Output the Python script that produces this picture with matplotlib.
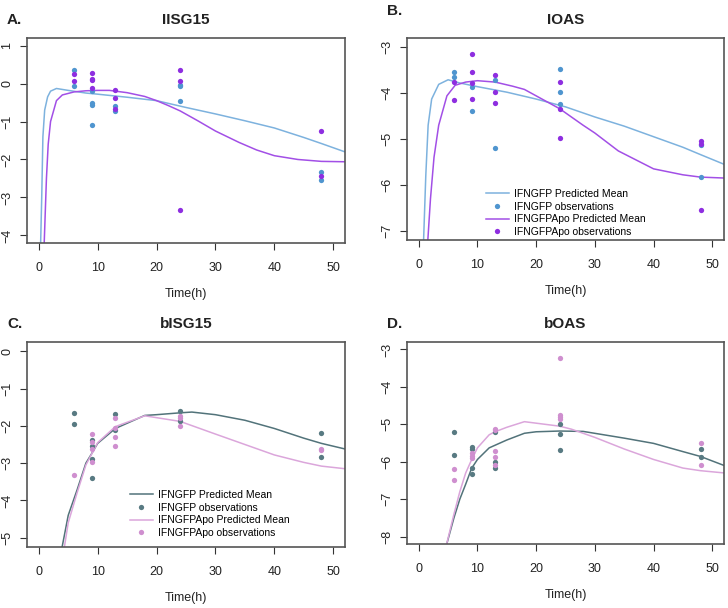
import matplotlib
matplotlib.use('Agg')
import matplotlib.pyplot as plt
from matplotlib.lines import Line2D

plt.rcParams['font.family'] = ['Liberation Sans', 'DejaVu Sans']

# observations (time, log value)
A_gfp_t = [6, 6, 9, 9, 9, 9, 13, 13, 24, 24, 24, 48, 48]
A_gfp_y = [0.37, -0.06, -0.2, -0.51, -0.56, -1.08, -0.59, -0.73, -0.03, -0.07, -0.46, -2.32, -2.53]
A_apo_t = [6, 6, 9, 9, 9, 9, 13, 13, 13, 24, 24, 24, 48, 48]
A_apo_y = [0.25, 0.07, 0.28, 0.13, 0.09, -0.11, -0.16, -0.37, -0.66, 0.37, 0.07, -3.32, -1.26, -2.44]

B_gfp_t = [6, 6, 9, 9, 13, 13, 24, 24, 24, 48, 48]
B_gfp_y = [-3.54, -3.66, -3.87, -4.40, -3.72, -5.19, -3.47, -3.98, -4.24, -5.13, -5.82]
B_apo_t = [6, 6, 9, 9, 9, 9, 13, 13, 13, 24, 24, 24, 48, 48, 48]
B_apo_y = [-3.75, -4.14, -3.15, -3.53, -3.79, -4.12, -3.60, -3.97, -4.22, -3.76, -4.35, -4.97, -5.05, -5.10, -6.54]

C_gfp_t = [6, 6, 9, 9, 9, 9, 13, 13, 24, 24, 48, 48]
C_gfp_y = [-1.65, -1.96, -2.37, -2.55, -2.88, -3.39, -1.69, -2.10, -1.61, -1.88, -2.18, -2.83]
C_apo_t = [6, 9, 9, 9, 9, 13, 13, 13, 13, 24, 24, 24, 48, 48]
C_apo_y = [-3.33, -2.21, -2.43, -2.63, -2.98, -1.78, -2.05, -2.29, -2.54, -1.74, -1.80, -2.01, -2.61, -2.65]

D_gfp_t = [6, 6, 9, 9, 9, 9, 13, 13, 13, 24, 24, 24, 48, 48]
D_gfp_y = [-5.21, -5.82, -5.60, -5.65, -6.16, -6.33, -5.21, -6.02, -6.18, -4.99, -5.26, -5.70, -5.66, -5.87]
D_apo_t = [6, 6, 9, 9, 9, 13, 13, 13, 13, 13, 24, 24, 24, 24, 48, 48]
D_apo_y = [-6.20, -6.50, -5.76, -5.85, -5.90, -5.13, -5.16, -5.71, -5.88, -6.09, -3.22, -4.75, -4.81, -4.85, -5.49, -6.08]

# predicted mean curves
A_gfp_ct = [0.3, 0.5, 0.7, 1, 1.5, 2, 3, 5, 8, 10, 15, 20, 25, 30, 35, 40, 45, 48, 52]
A_gfp_cy = [-4.3, -3.0, -1.4, -0.7, -0.35, -0.2, -0.13, -0.18, -0.25, -0.28, -0.36, -0.45, -0.63, -0.8, -0.98, -1.17, -1.42, -1.58, -1.8]
A_apo_ct = [0.9, 1.3, 1.6, 2, 3, 4, 6, 8, 10, 12, 15, 18, 20, 22, 24, 27, 30, 34, 37, 40, 44, 48, 52]
A_apo_cy = [-4.3, -2.5, -1.6, -1.0, -0.45, -0.3, -0.22, -0.19, -0.18, -0.18, -0.24, -0.34, -0.45, -0.58, -0.72, -0.98, -1.25, -1.55, -1.75, -1.9, -2.0, -2.05, -2.06]

B_gfp_ct = [0.8, 1.2, 1.6, 2.2, 3.4, 5, 7, 10, 15, 20, 25, 30, 35, 40, 45, 48, 52]
B_gfp_cy = [-7.3, -5.8, -4.7, -4.13, -3.81, -3.71, -3.78, -3.86, -3.98, -4.13, -4.3, -4.52, -4.72, -4.95, -5.18, -5.34, -5.55]
B_apo_ct = [1.5, 2.0, 2.6, 3.4, 4.8, 6.2, 8, 10, 13, 16, 18, 20, 24, 28, 30, 34, 40, 45, 48, 52]
B_apo_cy = [-7.3, -6.3, -5.4, -4.7, -4.06, -3.83, -3.76, -3.73, -3.76, -3.85, -3.92, -4.06, -4.34, -4.70, -4.87, -5.26, -5.65, -5.78, -5.83, -5.85]

C_gfp_ct = [3.9, 5, 6.5, 8, 9, 10, 13, 18, 20, 24, 26, 30, 35, 40, 45, 48, 52]
C_gfp_cy = [-5.3, -4.4, -3.72, -3.0, -2.74, -2.47, -2.07, -1.72, -1.70, -1.65, -1.63, -1.70, -1.85, -2.07, -2.33, -2.47, -2.62]
C_apo_ct = [4.3, 5, 6.5, 8, 9, 10, 13, 18, 20, 24, 30, 35, 40, 45, 48, 52]
C_apo_cy = [-5.3, -4.6, -3.8, -3.05, -2.75, -2.45, -2.02, -1.73, -1.78, -1.88, -2.22, -2.5, -2.78, -2.98, -3.08, -3.15]

D_gfp_ct = [4.6, 6, 7, 8, 9, 10, 12, 15, 18, 20, 24, 28, 35, 40, 45, 48, 52]
D_gfp_cy = [-8.3, -7.5, -7.0, -6.6, -6.18, -5.94, -5.63, -5.42, -5.24, -5.2, -5.18, -5.19, -5.37, -5.51, -5.73, -5.86, -6.1]
D_apo_ct = [4.6, 6, 7, 8, 9, 10, 12, 13, 15, 18, 20, 24, 26, 30, 35, 40, 45, 48, 52]
D_apo_cy = [-8.3, -7.4, -6.8, -6.3, -5.95, -5.63, -5.28, -5.2, -5.08, -4.93, -4.97, -5.05, -5.13, -5.35, -5.66, -5.94, -6.17, -6.24, -6.3]

labels = ['IFNGFP Predicted Mean', 'IFNGFP observations',
          'IFNGFPApo Predicted Mean', 'IFNGFPApo observations']

W, H = 728, 608
fig = plt.figure(figsize=(W / 100, H / 100), dpi=100)


def make_axes(l, r, t, b):
    return fig.add_axes([l / W, 1 - b / H, (r - l) / W, (b - t) / H])


panels = [
    dict(box=(27, 345, 38, 243), title='IISG15', tag='A.', tagy=20, ylim=(-4.2, 1.2), yt=range(-4, 2),
         c=(A_gfp_ct, A_gfp_cy, A_apo_ct, A_apo_cy), o=(A_gfp_t, A_gfp_y, A_apo_t, A_apo_y),
         lc=('#7db2de', '#a24fe6'), pc=('#4f95cf', '#8e2ee0'), leg=None),
    dict(box=(407, 724, 38, 240), title='IOAS', tag='B.', tagy=11, ylim=(-7.2, -2.8), yt=range(-7, -2),
         c=(B_gfp_ct, B_gfp_cy, B_apo_ct, B_apo_cy), o=(B_gfp_t, B_gfp_y, B_apo_t, B_apo_y),
         lc=('#7db2de', '#a24fe6'), pc=('#4f95cf', '#8e2ee0'), leg=(486, 189)),
    dict(box=(27, 345, 342, 547), title='bISG15', tag='C.', tagy=324, ylim=(-5.25, 0.25), yt=range(-5, 1),
         c=(C_gfp_ct, C_gfp_cy, C_apo_ct, C_apo_cy), o=(C_gfp_t, C_gfp_y, C_apo_t, C_apo_y),
         lc=('#52737a', '#dba6db'), pc=('#587a82', '#cf8fcf'), leg=(130, 490)),
    dict(box=(407, 724, 342, 544), title='bOAS', tag='D.', tagy=324, ylim=(-8.2, -2.8), yt=range(-8, -2),
         c=(D_gfp_ct, D_gfp_cy, D_apo_ct, D_apo_cy), o=(D_gfp_t, D_gfp_y, D_apo_t, D_apo_y),
         lc=('#52737a', '#dba6db'), pc=('#587a82', '#cf8fcf'), leg=None),
]

for p in panels:
    l, r, t, b = p['box']
    ax = make_axes(l, r, t, b)
    ct1, cy1, ct2, cy2 = p['c']
    ot1, oy1, ot2, oy2 = p['o']
    ax.plot(ct1, cy1, color=p['lc'][0], lw=1.1)
    ax.plot(ct2, cy2, color=p['lc'][1], lw=1.1)
    ax.plot(ot1, oy1, 'o', color=p['pc'][0], ms=3.8, mew=0)
    ax.plot(ot2, oy2, 'o', color=p['pc'][1], ms=3.8, mew=0)
    ax.set_xlim(-2, 52)
    ax.set_ylim(*p['ylim'])
    ax.set_xticks([0, 10, 20, 30, 40, 50])
    ax.set_yticks(list(p['yt']))
    ax.tick_params(labelsize=9, length=5, width=0.8, color='#333333', labelcolor='#222222')
    ax.tick_params(axis='x', pad=9)
    ax.tick_params(axis='y', pad=5)
    for lab in ax.get_yticklabels():
        lab.set_rotation(90)
        lab.set_va('center')
    for s in ax.spines.values():
        s.set_color('#555555')
        s.set_linewidth(1.2)
    ax.set_xlabel('Time(h)', fontsize=9, labelpad=10, color='#222222')
    fig.text((l + r) / 2 / W, 1 - 20 / H if t < 300 else 1 - 324 / H, p['title'],
             ha='center', va='center', fontsize=11, fontweight='bold', color='#222222')
    fig.text((l - 20) / W, 1 - p['tagy'] / H, p['tag'], ha='left', va='center',
             fontsize=11, fontweight='bold', color='#222222')
    if p['leg']:
        lx, ly = p['leg']
        handles = [Line2D([], [], color=p['lc'][0], lw=1.1),
                   Line2D([], [], ls='none', marker='o', color=p['pc'][0], ms=3.8, mew=0),
                   Line2D([], [], color=p['lc'][1], lw=1.1),
                   Line2D([], [], ls='none', marker='o', color=p['pc'][1], ms=3.8, mew=0)]
        ax.legend(handles, labels, loc='upper left',
                  bbox_to_anchor=((lx - l) / (r - l), (b - ly) / (b - t)),
                  frameon=False, fontsize=7.5, borderpad=0, borderaxespad=0,
                  handlelength=2.2, handletextpad=0.5, labelspacing=0.25)

fig.savefig('out.png', dpi=100)
